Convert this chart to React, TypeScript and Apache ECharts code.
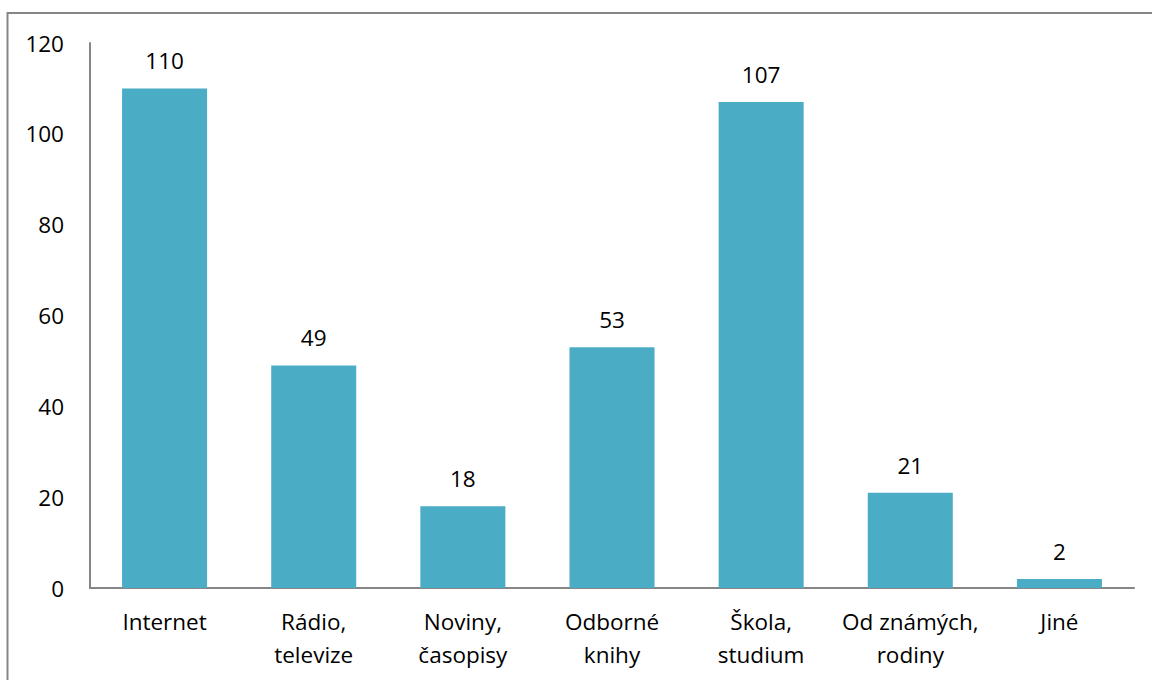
import React, { useEffect, useRef } from "react";
import * as echarts from "echarts";

const categories = [
  "Internet",
  "Rádio,\ntelevize",
  "Noviny,\nčasopisy",
  "Odborné\nknihy",
  "Škola,\nstudium",
  "Od známých,\nrodiny",
  "Jiné",
];
const values = [110, 49, 18, 53, 107, 21, 2];
const yTicks = { min: 0, max: 120, interval: 20 };

export default function App() {
  const ref = useRef<HTMLDivElement>(null);
  useEffect(() => {
    const chart = echarts.init(ref.current!, null, { renderer: "svg" });
    const font = "'Open Sans', sans-serif";
    chart.setOption({
      animation: false,
      backgroundColor: "#ffffff",
      textStyle: { fontFamily: font },
      graphic: [
        {
          type: "rect",
          shape: { x: 7.5, y: 13, width: 1300, height: 800 },
          style: { fill: "none", stroke: "#868686", lineWidth: 2 },
          silent: true,
        },
      ],
      grid: { left: 90, right: 18, top: 43, bottom: 92, containLabel: false },
      xAxis: {
        type: "category",
        data: categories,
        axisLine: { show: true, lineStyle: { color: "#868686", width: 2 } },
        axisTick: { show: false },
        axisLabel: {
          color: "#000000",
          fontSize: 22.5,
          fontFamily: font,
          lineHeight: 33,
          margin: 17,
          interval: 0,
        },
      },
      yAxis: {
        type: "value",
        min: yTicks.min,
        max: yTicks.max,
        interval: yTicks.interval,
        axisLine: { show: true, lineStyle: { color: "#868686", width: 2 } },
        axisTick: { show: false },
        splitLine: { show: false },
        axisLabel: { color: "#000000", fontSize: 22.5, fontFamily: font, margin: 26 },
      },
      series: [
        {
          type: "bar",
          data: values,
          barWidth: "57%",
          itemStyle: { color: "#4BACC6" },
          label: {
            show: true,
            position: "top",
            distance: 16,
            color: "#000000",
            fontSize: 22.5,
            fontFamily: font,
          },
        },
      ],
    });
    return () => chart.dispose();
  }, []);
  return (
    <div
      ref={ref}
      style={{ position: "absolute", left: 0, top: 0, width: 1152, height: 680 }}
    />
  );
}
